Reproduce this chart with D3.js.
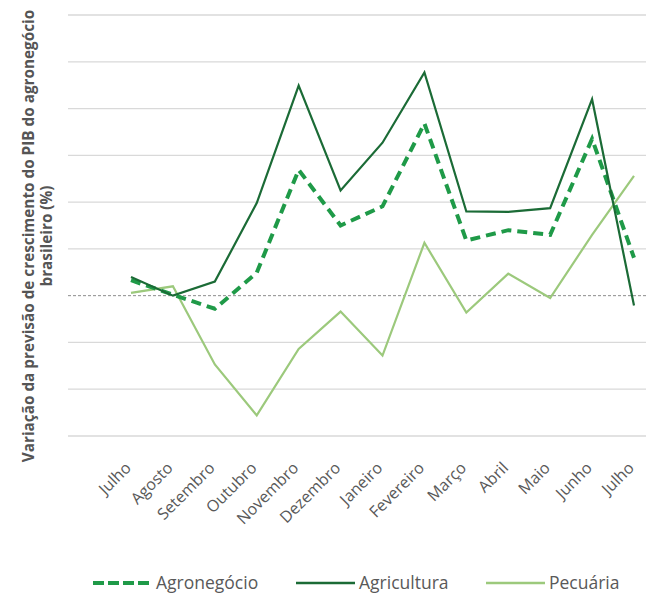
<!DOCTYPE html>
<html>
<head>
<meta charset="utf-8">
<script src="https://d3js.org/d3.v7.min.js"></script>
<style>
  body { margin: 0; background: #fff; }
  svg { font-family: "Open Sans", "Noto Sans", sans-serif; }
</style>
</head>
<body>
<svg id="chart" width="646" height="593"></svg>
<script>
// months on the category axis
var months = ["Julho", "Agosto", "Setembro", "Outubro", "Novembro", "Dezembro",
              "Janeiro", "Fevereiro", "Março", "Abril", "Maio", "Junho", "Julho"];

// series values (in gridline units)
var agronegocio = [0.33, 0.02, -0.28, 0.49, 2.69, 1.50, 1.91, 3.68, 1.18, 1.40, 1.30, 3.35, 0.81];
var agricultura = [0.40, 0.00, 0.30, 1.98, 4.49, 2.25, 3.27, 4.77, 1.80, 1.79, 1.87, 4.20, -0.21];
var pecuaria    = [0.06, 0.20, -1.47, -2.56, -1.14, -0.34, -1.28, 1.13, -0.36, 0.47, -0.05, 1.30, 2.56];

var yTicks = [-3, -2, -1, 1, 2, 3, 4, 5, 6];

var series = [
  { name: "Agronegócio", values: agronegocio, color: "#1f9a48", width: 4, dash: "10,6" },
  { name: "Agricultura", values: agricultura, color: "#1b6b36", width: 2.2, dash: null },
  { name: "Pecuária",    values: pecuaria,    color: "#9cc97c", width: 2.2, dash: null }
];

var svg = d3.select("#chart");

var x = d3.scalePoint()
  .domain(d3.range(months.length))
  .range([131, 634]);

var y = d3.scaleLinear()
  .domain([-3, 6])
  .range([436, 15]);

// gridlines
svg.append("g")
  .selectAll("line")
  .data(yTicks)
  .enter()
  .append("line")
    .attr("x1", 68).attr("x2", 646)
    .attr("y1", function(d) { return y(d); })
    .attr("y2", function(d) { return y(d); })
    .attr("stroke", "#d9d9d9")
    .attr("stroke-width", 1.3);

// zero line
svg.append("line")
  .attr("x1", 68).attr("x2", 646)
  .attr("y1", y(0)).attr("y2", y(0))
  .attr("stroke", "#7f7f7f")
  .attr("stroke-width", 0.9)
  .attr("stroke-dasharray", "3,2");

// month labels
svg.append("g")
  .selectAll("text")
  .data(months)
  .enter()
  .append("text")
    .attr("transform", function(d, i) { return "translate(" + (x(i) + 1) + ",469) rotate(-45)"; })
    .attr("text-anchor", "end")
    .attr("fill", "#595959")
    .style("font-size", "16px")
    .text(function(d) { return d; });

// lines
var line = d3.line()
  .x(function(d, i) { return x(i); })
  .y(function(d) { return y(d); });

svg.append("g")
  .selectAll("path")
  .data(series)
  .enter()
  .append("path")
    .attr("d", function(d) { return line(d.values); })
    .attr("fill", "none")
    .attr("stroke", function(d) { return d.color; })
    .attr("stroke-width", function(d) { return d.width; })
    .attr("stroke-dasharray", function(d) { return d.dash; })
    .attr("stroke-linejoin", "miter");

// pecuaria sits below the other two in the picture
svg.selectAll("path").filter(function(d) { return d.name === "Pecuária"; }).lower();

// y axis title
var title = svg.append("text")
  .attr("transform", "translate(0,236) rotate(-90)")
  .attr("text-anchor", "middle")
  .attr("fill", "#555555")
  .style("font-size", "15.3px")
  .style("font-weight", "bold");
title.append("tspan").attr("x", 0).attr("y", 34).text("Variação da previsão de crescimento do PIB do agronegócio");
title.append("tspan").attr("x", 0).attr("y", 52).text("brasileiro (%)");

// legend
var legendX = [93, 296, 486];
var legend = svg.append("g")
  .selectAll("g")
  .data(series)
  .enter()
  .append("g")
    .attr("transform", function(d, i) { return "translate(" + legendX[i] + ",583)"; });

legend.append("line")
  .attr("x1", 0).attr("x2", 59)
  .attr("y1", 0).attr("y2", 0)
  .attr("stroke", function(d) { return d.color; })
  .attr("stroke-width", function(d) { return d.width === 4 ? 4 : 2.5; })
  .attr("stroke-dasharray", function(d) { return d.dash ? "11,4" : null; });

legend.append("text")
  .attr("x", 63)
  .attr("y", 6)
  .attr("fill", "#595959")
  .style("font-size", "17.5px")
  .text(function(d) { return d.name; });
</script>
</body>
</html>
